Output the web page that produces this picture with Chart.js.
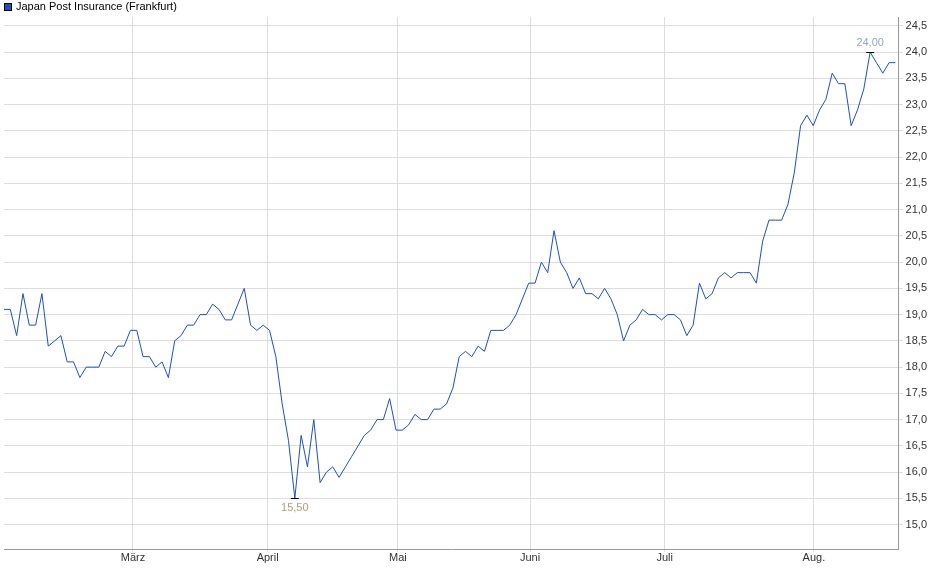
<!DOCTYPE html>
<html><head><meta charset="utf-8">
<script src="https://cdn.jsdelivr.net/npm/chart.js@4"></script>
<style>html,body{margin:0;background:#fff}#wrap{width:940px;height:579px}</style>
</head><body><div id="wrap"><canvas id="c"></canvas></div>
<script>
// Japan Post Insurance (Frankfurt), daily closes
const prices = [19.1,19.1,18.6,19.4,18.8,18.8,19.4,18.4,18.5,18.6,18.1,18.1,17.8,18.0,18.0,18.0,18.3,18.2,18.4,18.4,
  18.7,18.7,18.2,18.2,18.0,18.1,17.8,18.5,18.6,18.8,18.8,19.0,19.0,19.2,19.1,18.9,18.9,19.2,19.5,18.8,
  18.7,18.8,18.7,18.2,17.3,16.6,15.5,16.7,16.1,17.0,15.8,16.0,16.1,15.9,16.1,16.3,16.5,16.7,16.8,17.0,
  17.0,17.4,16.8,16.8,16.9,17.1,17.0,17.0,17.2,17.2,17.3,17.6,18.2,18.3,18.2,18.4,18.3,18.7,18.7,18.7,
  18.8,19.0,19.3,19.6,19.6,20.0,19.8,20.6,20.0,19.8,19.5,19.7,19.4,19.4,19.3,19.5,19.3,19.0,18.5,18.8,
  18.9,19.1,19.0,19.0,18.9,19.0,19.0,18.9,18.6,18.8,19.6,19.3,19.4,19.7,19.8,19.7,19.8,19.8,19.8,19.6,
  20.4,20.8,20.8,20.8,21.1,21.7,22.6,22.8,22.6,22.9,23.1,23.6,23.4,23.4,22.6,22.9,23.3,24.0,23.8,23.6,
  23.8,23.8];
const monthTicks = [20.4, 41.7, 62.3, 83.2, 104.5, 128.1];
const monthLabels = ['März', 'April', 'Mai', 'Juni', 'Juli', 'Aug.'];
const yTicks = [15.0,15.5,16.0,16.5,17.0,17.5,18.0,18.5,19.0,19.5,20.0,20.5,21.0,21.5,22.0,22.5,23.0,23.5,24.0,24.5];

const fmt = v => v.toFixed(2).replace('.', ',');
const lo = Math.min(...prices), hi = Math.max(...prices);
const iLo = prices.indexOf(lo), iHi = prices.indexOf(hi);

const extremes = {
  id: 'extremes',
  afterDatasetsDraw(chart) {
    const { ctx, scales: { x, y } } = chart;
    ctx.save();
    ctx.font = '11px "Liberation Sans", Arial';
    ctx.textAlign = 'center';
    ctx.strokeStyle = '#000';
    ctx.lineWidth = 1;
    [[iLo, lo, '#b0a080', 1], [iHi, hi, '#8fa8c8', -1]].forEach(([i, v, col, dir]) => {
      const px = x.getPixelForValue(i), py = y.getPixelForValue(v);
      ctx.beginPath(); ctx.moveTo(px - 4, Math.round(py) + 0.5); ctx.lineTo(px + 4, Math.round(py) + 0.5); ctx.stroke();
      ctx.fillStyle = col;
      ctx.textBaseline = dir > 0 ? 'top' : 'bottom';
      ctx.fillText(fmt(v), px, py + dir * 4);
    });
    ctx.restore();
  }
};

const legendBox = {
  id: 'legendBox',
  afterDraw(chart) {
    const ctx = chart.ctx;
    ctx.save();
    ctx.fillStyle = '#1f4fbf'; ctx.strokeStyle = '#000';
    ctx.fillRect(4, 3, 8, 8); ctx.strokeRect(4.5, 3.5, 7, 7);
    ctx.fillStyle = '#000'; ctx.font = '11px "Liberation Sans", Arial';
    ctx.textBaseline = 'middle';
    ctx.fillText('Japan Post Insurance (Frankfurt)', 16, 7);
    ctx.restore();
  }
};

new Chart(document.getElementById('c'), {
  type: 'line',
  data: {
    datasets: [{
      data: prices.map((p, i) => ({ x: i, y: p })),
      borderColor: '#1f4fbf',
      borderWidth: 1,
      pointRadius: 0,
      tension: 0
    }]
  },
  options: {
    animation: false,
    responsive: true,
    maintainAspectRatio: false,
    layout: { padding: { top: 17, left: 4, right: 10, bottom: 14 } },
    scales: {
      x: {
        type: 'linear', min: 0, max: prices.length - 0.5,
        afterBuildTicks: s => { s.ticks = monthTicks.map(v => ({ value: v })); },
        ticks: { callback: (v, i) => monthLabels[i], color: '#333', padding: 0, font: { size: 11, family: '"Liberation Sans", Arial' }, maxRotation: 0, autoSkip: false },
        grid: { color: '#dddddd', drawTicks: true, tickLength: 2 },
        border: { color: '#999' }
      },
      y: {
        position: 'right', min: 14.52, max: 24.67,
        afterBuildTicks: s => { s.ticks = yTicks.map(v => ({ value: v })); },
        ticks: { callback: v => v.toFixed(1).replace('.', ','), color: '#333', font: { size: 11, family: '"Liberation Sans", Arial' } },
        grid: { color: '#dddddd', tickLength: 4 },
        border: { color: '#999' }
      }
    },
    plugins: { legend: { display: false }, tooltip: { enabled: false } }
  },
  plugins: [extremes, legendBox]
});
</script>
</body></html>
